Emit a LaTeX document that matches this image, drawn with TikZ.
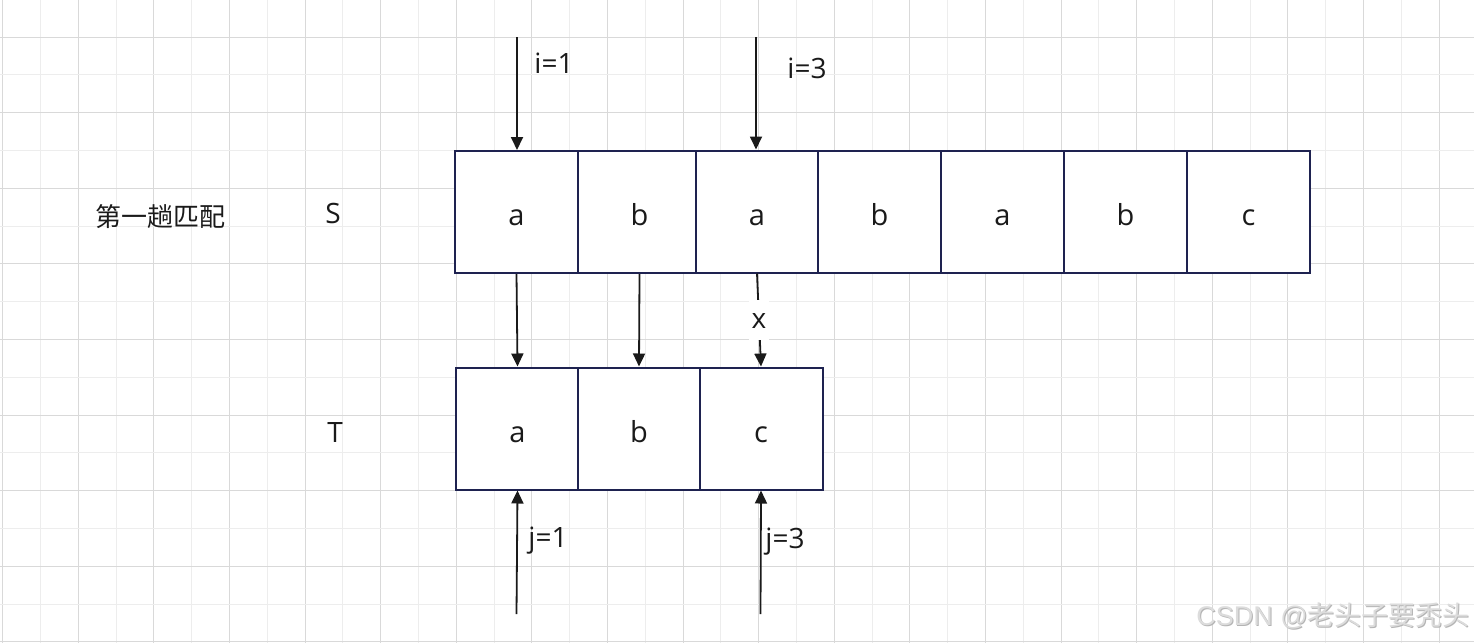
\documentclass[tikz,border=0pt]{standalone}
\usepackage{fontspec}
\setmainfont{Open Sans}
\newfontfamily\cjk{Noto Sans CJK SC}
\newfontfamily\wmfont{Liberation Sans}
\usetikzlibrary{arrows.meta}
\definecolor{gridminor}{HTML}{EDEDED}
\definecolor{gridmajor}{HTML}{D9D9D9}
\definecolor{boxcol}{HTML}{1E2250}
\definecolor{inkcol}{HTML}{1A1A1A}
\definecolor{wmlight}{HTML}{DCDCDC}
\definecolor{wmdark}{HTML}{B4B4B4}
\tikzset{
  cell/.style={draw=boxcol, line width=2pt, fill=white, minimum width=123pt, minimum height=122pt,
    inner sep=0pt, text height=27pt, text depth=0pt, font=\fontsize{29}{32}\selectfont, text=inkcol},
  arr/.style={draw=inkcol, line width=1.8pt, -{Triangle[width=12pt,length=13pt]}},
  lbl/.style={anchor=base, inner sep=0pt, font=\fontsize{28}{31}\selectfont, text=inkcol},
}
\begin{document}
\begin{tikzpicture}[x=1pt,y=-1pt]
\useasboundingbox (0,0) rectangle (1474,643);
\fill[white] (0,0) rectangle (1474,643);
% grid
\foreach \k in {0,...,38}{
  \pgfmathsetmacro{\xx}{2.7+37.8*\k}
  \pgfmathparse{mod(\k,2)==0 ? 1 : 0}
  \ifnum\pgfmathresult=1
    \draw[gridmajor, line width=1pt] (\xx,0) -- (\xx,643);
  \else
    \draw[gridminor, line width=1pt] (\xx,0) -- (\xx,643);
  \fi
}
\foreach \k in {0,...,17}{
  \pgfmathsetmacro{\yy}{-0.8+37.8*\k}
  \pgfmathparse{mod(\k,2)==1 ? 1 : 0}
  \ifnum\pgfmathresult=1
    \draw[gridmajor, line width=1pt] (0,\yy) -- (1474,\yy);
  \else
    \draw[gridminor, line width=1pt] (0,\yy) -- (1474,\yy);
  \fi
}
% labels
\node[lbl, font=\cjk\fontsize{26}{30}\selectfont] (title) at (160,226) {第一趟匹配};
\node[lbl] (lS) at (333,223.5) {S};
\node[lbl] (lT) at (335,442.5) {T};
% S boxes
\node[cell] (s1) at (516.5,212) {a};
\node[cell] (s2) at (639.5,212) {b};
\node[cell] (s3) at (757,211.5) {a};
\node[cell] (s4) at (879.5,211.5) {b};
\node[cell] (s5) at (1002.5,211.5) {a};
\node[cell] (s6) at (1125.5,211.5) {b};
\node[cell] (s7) at (1248.5,211.5) {c};
% T boxes
\node[cell] (t1) at (517.5,428.5) {a};
\node[cell] (t2) at (639,428.5) {b};
\node[cell] (t3) at (761,428.5) {c};
% pointer starts
\coordinate (i1) at (517,37);
\coordinate (i3) at (756,37);
\coordinate (j1) at (516.5,614);
\coordinate (j3) at (760.5,614);
\draw[arr] (i1) -- (i1 |- s1.north);
\draw[arr] (i3) -- (i3 |- s3.north);
\draw[arr] (j1) -- (t1.south);
\draw[arr] (j3) -- (t3.south);
\node[lbl] (li1) at (554,73.5) {i=1};
\node[lbl] (li3) at (807,78.5) {i=3};
\node[lbl] (lj1) at (548,547.5) {j=1};
\node[lbl] (lj3) at (785,548.5) {j=3};
% comparisons
\draw[arr] (s1.south) -- (t1.north);
\draw[arr] (s2.south) -- (t2.north);
\draw[arr] (s3.south) -- node[fill=white, inner xsep=3pt, inner ysep=0pt, text height=28pt, text depth=12pt, font=\fontsize{28}{31}\selectfont, text=inkcol] (lx) {x} (t3.north);
% watermark
\node[anchor=base east, inner sep=0pt, text=wmdark, font=\fontsize{27}{30}\selectfont] at (1471,626) {\wmfont CSDN @\cjk 老头子要秃头};
\node[anchor=base east, inner sep=0pt, text=wmlight, font=\fontsize{27}{30}\selectfont] (wm) at (1470,625) {\wmfont CSDN @\cjk 老头子要秃头};
\end{tikzpicture}
\end{document}
